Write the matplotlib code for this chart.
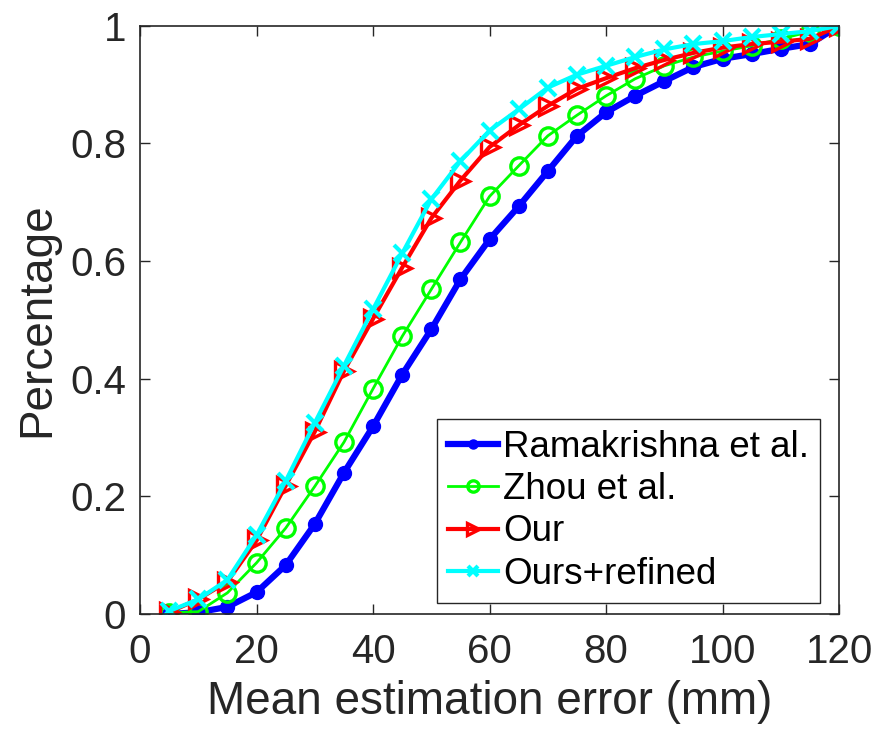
import matplotlib
matplotlib.use("Agg")
import matplotlib.pyplot as plt

plt.rcParams["font.family"] = ["Liberation Sans", "DejaVu Sans"]

# Error thresholds (mm) and cumulative percentage per method
ERROR_MM = [5, 10, 15, 20, 25, 30, 35, 40, 45, 50, 55, 60,
            65, 70, 75, 80, 85, 90, 95, 100, 105, 110, 115, 120]
RAMAKRISHNA = [0.0, 0.003, 0.012, 0.037, 0.083, 0.153, 0.240, 0.319, 0.407, 0.484, 0.569, 0.637,
               0.693, 0.753, 0.813, 0.853, 0.881, 0.906, 0.930, 0.944, 0.952, 0.961, 0.969, 1.0]
ZHOU = [0.002, 0.004, 0.036, 0.087, 0.146, 0.217, 0.292, 0.383, 0.472, 0.552, 0.632, 0.710,
        0.762, 0.813, 0.848, 0.881, 0.910, 0.932, 0.947, 0.957, 0.966, 0.978, 0.990, 1.0]
OUR = [0.003, 0.025, 0.055, 0.125, 0.218, 0.310, 0.413, 0.502, 0.589, 0.673, 0.737, 0.794,
       0.831, 0.864, 0.893, 0.911, 0.928, 0.942, 0.954, 0.963, 0.969, 0.973, 0.978, 1.0]
OURS_REFINED = [0.005, 0.025, 0.058, 0.134, 0.226, 0.325, 0.422, 0.518, 0.613, 0.705, 0.770, 0.822,
                0.858, 0.895, 0.917, 0.932, 0.947, 0.960, 0.969, 0.974, 0.981, 0.986, 0.991, 1.0]

X_TICKS = [0, 20, 40, 60, 80, 100, 120]
Y_TICKS = [0, 0.2, 0.4, 0.6, 0.8, 1.0]
Y_TICKLABELS = ["0", "0.2", "0.4", "0.6", "0.8", "1"]

fig = plt.figure(figsize=(8.75, 7.38), dpi=100)
ax = fig.add_axes([0.16, 0.168, 0.799, 0.797])

ax.plot(ERROR_MM, RAMAKRISHNA, color="#0000ff", lw=4.5, marker="o", ms=10,
        mfc="#0000ff", mec="#0000ff", label="Ramakrishna et al.")
ax.plot(ERROR_MM, ZHOU, color="#00ff00", lw=2, marker="o", ms=12.5, mew=2.4,
        mfc="none", mec="#00ff00", label="Zhou et al.")
ax.plot(ERROR_MM, OUR, color="#ff0000", lw=3, marker=">", ms=13, mew=2.4,
        mfc="none", mec="#ff0000", label="Our")
ax.plot(ERROR_MM, OURS_REFINED, color="#00ffff", lw=3, marker="x", ms=11, mew=3,
        mec="#00ffff", label="Ours+refined")

ax.set_xlim(0, 120)
ax.set_ylim(0, 1)
ax.set_xticks(X_TICKS)
ax.set_yticks(Y_TICKS)
ax.set_yticklabels(Y_TICKLABELS)

ax.tick_params(direction="in", length=7, width=1, top=True, right=True,
               labelsize=29, colors="#262626")
ax.tick_params(axis="x", pad=14)
ax.tick_params(axis="y", pad=10)
for sp in ax.spines.values():
    sp.set_color("#262626")
    sp.set_linewidth(1.2)

ax.set_xlabel("Mean estimation error (mm)", fontsize=33, color="#262626", labelpad=6)
ax.set_ylabel("Percentage", fontsize=33, color="#262626", labelpad=8)

leg = ax.legend(loc="lower right", bbox_to_anchor=(0.973, 0.019), borderaxespad=0,
                fontsize=26.5, fancybox=False, framealpha=1, edgecolor="#262626",
                handlelength=1.35, handletextpad=0.15, labelspacing=0.2,
                borderpad=0.3, markerscale=0.65)
leg.get_frame().set_linewidth(1.0)

fig.savefig("out.png", dpi=100)
